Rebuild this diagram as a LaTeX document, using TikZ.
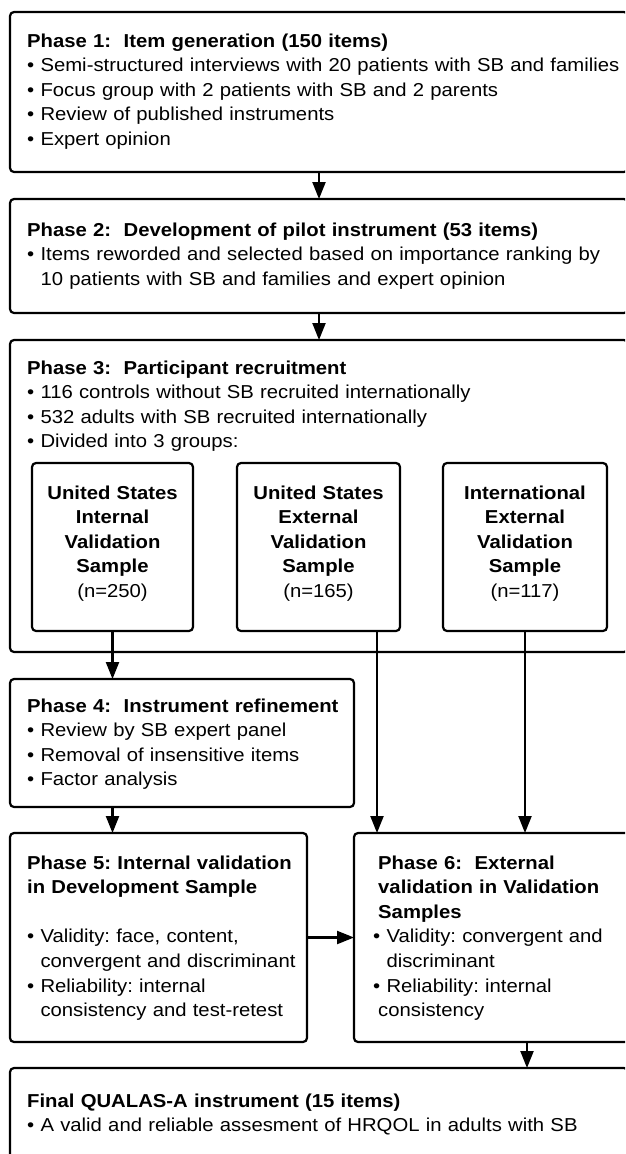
\documentclass[tikz,border=0pt]{standalone}
\usepackage{fontspec}
\setmainfont{Liberation Sans}[FakeStretch=1.085]
\usetikzlibrary{arrows.meta,calc}
\setlength\parindent{0pt}
\frenchspacing
\newcommand{\ind}{\phantom{•\ }}
\begin{document}
\begin{tikzpicture}[x=1pt,y=-1pt,
  box/.style={draw, line width=2.2pt, rounded corners=4pt, anchor=north west, inner sep=0pt, outer sep=0pt},
  txt/.style={anchor=base west, inner sep=0pt, text width=600pt, align=left, font=\fontsize{18.7}{24.6}\selectfont},
  ctxt/.style={anchor=base, inner sep=0pt, text width=170pt, align=center, font=\fontsize{18.7}{24.6}\selectfont},
  arr/.style={line width=2.2pt, -{Triangle[length=17pt,width=13pt]}}]
\useasboundingbox (0,0) rectangle (625,1154);
\clip (0,0) rectangle (625,1154);
\fill[white] (0,0) rectangle (625,1154);

% boxes
\node[box, minimum width=618pt, minimum height=160pt] (p1) at (10,12) {};
\node[box, minimum width=618pt, minimum height=114pt] (p2) at (10,199) {};
\node[box, minimum width=618pt, minimum height=312pt] (p3) at (10,340) {};
\node[box, minimum width=161pt, minimum height=168pt] (s1) at (32,463) {};
\node[box, minimum width=163pt, minimum height=168pt] (s2) at (237,463) {};
\node[box, minimum width=164pt, minimum height=168pt] (s3) at (443,463) {};
\node[box, minimum width=344pt, minimum height=128pt] (p4) at (10,679) {};
\node[box, minimum width=297pt, minimum height=209pt] (p5) at (10,833) {};
\node[box, minimum width=280pt, minimum height=209pt] (p6) at (354,833) {};
\node[box, minimum width=618pt, minimum height=100pt] (fin) at (10,1068) {};

% texts
\node[txt] (t1) at (27,47) {\textbf{Phase 1:\ \ Item generation (150 items)}\\
• Semi-structured interviews with 20 patients with SB and families\\
• Focus group with 2 patients with SB and 2 parents\\
• Review of published instruments\\
• Expert opinion};
\node[txt] (t2) at (27,236) {\textbf{Phase 2:\ \ Development of pilot instrument (53 items)}\\
• Items reworded and selected based on importance ranking by\\
\ind 10 patients with SB and families and expert opinion};
\node[txt] (t3) at (27,374) {\textbf{Phase 3:\ \ Participant recruitment}\\
• 116 controls without SB recruited internationally\\
• 532 adults with SB recruited internationally\\
• Divided into 3 groups:};
\node[ctxt] (ts1) at (112.5,499) {\textbf{United States}\\ \textbf{Internal}\\ \textbf{Validation}\\ \textbf{Sample}\\ (n=250)};
\node[ctxt] (ts2) at (318.5,499) {\textbf{United States}\\ \textbf{External}\\ \textbf{Validation}\\ \textbf{Sample}\\ (n=165)};
\node[ctxt] (ts3) at (525,499) {\textbf{International}\\ \textbf{External}\\ \textbf{Validation}\\ \textbf{Sample}\\ (n=117)};
\node[txt] (t4) at (27,712) {\textbf{Phase 4:\ \ Instrument refinement}\\
• Review by SB expert panel\\
• Removal of insensitive items\\
• Factor analysis};
\node[txt] (t5) at (27,869) {\textbf{Phase 5: Internal validation}\\
\textbf{in Development Sample}\\[24.6pt]
• Validity: face, content,\\
\ind convergent and discriminant\\
• Reliability: internal\\
\ind consistency and test-retest};
\node[txt] (t6) at (378,869) {\textbf{Phase 6:\ \ External}\\
\textbf{validation in Validation}\\
\textbf{Samples}\\
\hspace*{-5pt}• Validity: convergent and\\
\hspace*{-5pt}\ind discriminant\\
\hspace*{-5pt}• Reliability: internal\\
consistency};
\node[txt] (tf) at (27,1107) {\textbf{Final QUALAS-A instrument (15 items)}\\
• A valid and reliable assesment of HRQOL in adults with SB};

% connectors
\draw[arr] (p1.south) -- (p2.north);
\draw[arr] (p2.south) -- (p3.north);
\draw[arr] (s1.south) -- (s1.south |- p4.north);
\draw[arr] ([xshift=58.5pt]s2.south) -- ([xshift=58.5pt]s2.south |- p6.north);
\draw[arr] (s3.south) -- (s3.south |- p6.north);
\draw[arr] (p4.south -| s1.south) -- (p5.north -| s1.south);
\draw[arr] (p5.east) -- (p6.west);
\draw[arr] ([xshift=2pt]s3.south |- p6.south) -- ([xshift=2pt]s3.south |- fin.north);
\end{tikzpicture}
\end{document}
